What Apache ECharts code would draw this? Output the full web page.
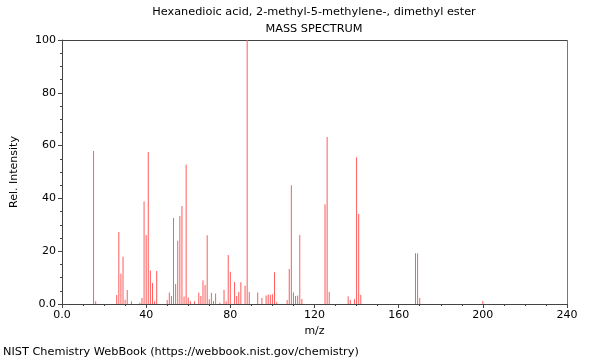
<!DOCTYPE html>
<html>
<head>
<meta charset="utf-8">
<script src="https://cdn.jsdelivr.net/npm/echarts@6/dist/echarts.min.js"></script>
<style>html,body{margin:0;padding:0;background:#fff}#c{width:600px;height:360px}</style>
</head>
<body>
<div id="c"></div>
<script>
var mz = [15,16,26,27,28,29,30,31,33,37,38,39,40,41,42,43,44,45,50,51,52,53,54,55,56,57,58,59,60,61,63,65,66,67,68,69,70,71,72,73,75,77,78,79,80,82,83,84,85,87,88,89,93,95,97,98,99,100,101,102,107,108,109,110,111,112,113,114,125,126,127,136,137,139,140,141,142,168,169,170,200];
var intensity = [58,1,3.4,27.3,11.5,17.9,1.6,5.3,1,0.5,2.3,38.8,26.1,57.6,12.7,8,1,12.5,1.5,4.4,3,32.6,7.6,24,33.3,37.1,2.8,52.7,2.5,1,1,4.3,3,9,7.2,26,1.8,4.3,1.1,4,0.5,5.4,1,18.6,12.2,8.3,3,4.5,8.2,6.9,100,4.5,4.4,2.3,3.2,3.6,3.5,3.7,12,0.7,1.5,13.3,45,4.4,3,3.2,26.1,1.9,37.8,63.3,4.5,2.9,1.5,1.8,55.6,34.1,3.5,19.2,19.2,2.3,1.1];
var titleText = "Hexanedioic acid, 2-methyl-5-methylene-, dimethyl ester";
var subtitleText = "MASS SPECTRUM";
var xName = "m/z";
var yName = "Rel. Intensity";
var footer = "NIST Chemistry WebBook (https://webbook.nist.gov/chemistry)";

var data = mz.map(function(m, i){ return [m, intensity[i]]; });
var font = "DejaVu Sans";
var chart = echarts.init(document.getElementById('c'), null, {renderer:'canvas'});
chart.setOption({
  animation: false,
  textStyle: {fontFamily: font},
  graphic: [
    {type:'text', x:314, y:7, style:{text:titleText, font:'11.3px "DejaVu Sans"', fill:'#000', textAlign:'center', textVerticalAlign:'top'}},
    {type:'text', x:314, y:24, style:{text:subtitleText, font:'11.3px "DejaVu Sans"', fill:'#000', textAlign:'center', textVerticalAlign:'top'}},
    {type:'text', x:3, y:347, style:{text:footer, font:'11.3px "DejaVu Sans"', fill:'#000', textVerticalAlign:'top'}},
    {type:'line', shape:{x1:62, y1:40.5, x2:567, y2:40.5}, style:{stroke:'#444', lineWidth:1}},
    {type:'line', shape:{x1:567.5, y1:40, x2:567.5, y2:304}, style:{stroke:'#777', lineWidth:1}}
  ],
  grid: {left:62, right:33, top:40, bottom:56, containLabel:false},
  xAxis: {
    type:'value', min:0, max:240, interval:40,
    name:xName, nameLocation:'middle', nameGap:22,
    nameTextStyle:{fontFamily:font, fontSize:11, color:'#000'},
    axisLine:{show:true, lineStyle:{color:'#444', width:1}},
    axisTick:{show:true, length:4, lineStyle:{color:'#444'}},
    minorTick:{show:true, splitNumber:4, length:2, lineStyle:{color:'#444'}},
    splitLine:{show:false},
    axisLabel:{fontFamily:font, fontSize:11, color:'#000', margin:6,
      formatter:function(v){ return v===0 ? '0.0' : String(v); }}
  },
  yAxis: {
    type:'value', min:0, max:100, interval:20,
    name:yName, nameLocation:'middle', nameGap:42, nameRotate:90,
    nameTextStyle:{fontFamily:font, fontSize:11, color:'#000'},
    axisLine:{show:true, lineStyle:{color:'#444', width:1}},
    axisTick:{show:true, length:4, lineStyle:{color:'#444'}},
    minorTick:{show:true, splitNumber:4, length:2, lineStyle:{color:'#444'}},
    splitLine:{show:false},
    axisLabel:{fontFamily:font, fontSize:11, color:'#000', margin:6,
      formatter:function(v){ return v===0 ? '0.0' : String(v); }}
  },
  series: [{
    type:'bar', data:data, barWidth:1, barGap:'-100%',
    itemStyle:{color:'#ff5c5c'},
    emphasis:{disabled:true}
  }]
});
</script>
</body>
</html>
